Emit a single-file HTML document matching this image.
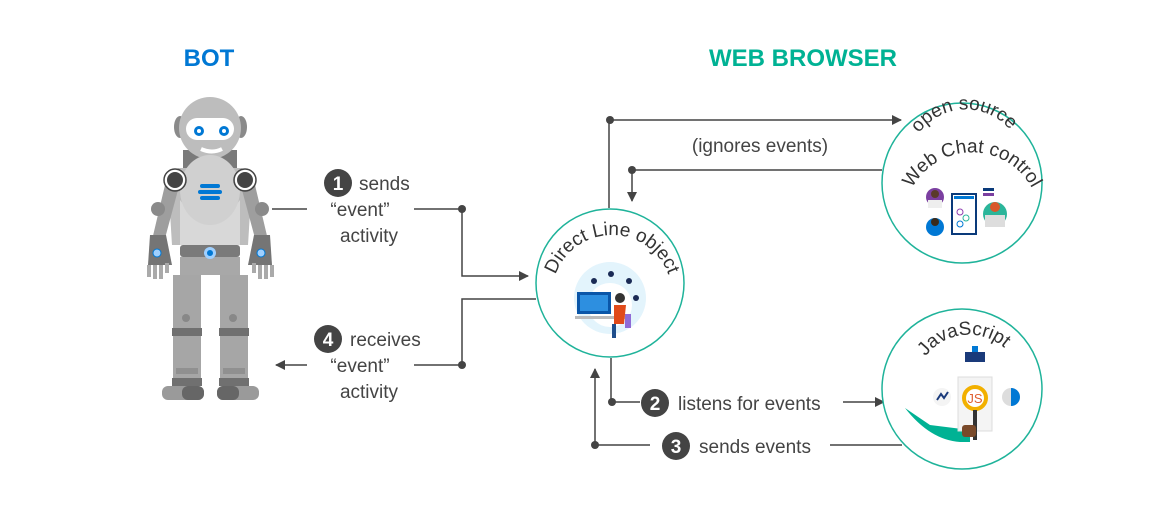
<!DOCTYPE html>
<html><head><meta charset="utf-8"><style>
html,body{margin:0;padding:0;background:#fff;}
svg{display:block;font-family:"Segoe UI","Liberation Sans",sans-serif;}
</style></head><body>
<svg width="1166" height="515" viewBox="0 0 1166 515" xmlns="http://www.w3.org/2000/svg">
<defs>
<marker id="ar" markerWidth="10" markerHeight="10" refX="9" refY="5" orient="auto" markerUnits="userSpaceOnUse"><path d="M0,0 L10,5 L0,10 z" fill="#444"/></marker>
<path id="dlp" d="M552,295 A60,60 0 0 1 672,295"/>
<path id="wcp1" d="M912,146 A58,58 0 0 1 1018,142"/>
<path id="wcp2" d="M906,204 A68,68 0 0 1 1038,204"/>
<path id="jsp" d="M920,366 A54,54 0 0 1 1012,356"/>
</defs>
<text x="209" y="66" text-anchor="middle" font-size="24" font-weight="bold" fill="#0078d4">BOT</text>
<text x="803" y="66" text-anchor="middle" font-size="24" font-weight="bold" fill="#00b294">WEB BROWSER</text>

<!-- robot -->
<g>
<rect x="183" y="150" width="54" height="20" fill="#7a7a7a"/>
<ellipse cx="180" cy="127" rx="6" ry="11" fill="#8a8a8a"/>
<ellipse cx="241" cy="127" rx="6" ry="11" fill="#8a8a8a"/>
<circle cx="210" cy="128" r="31" fill="#bdbdbd"/>
<rect x="186" y="118" width="48" height="22" rx="11" fill="#fff"/>
<circle cx="199" cy="131" r="5" fill="#0078d4"/><circle cx="199" cy="131" r="2" fill="#fff"/>
<circle cx="224" cy="131" r="5" fill="#0078d4"/><circle cx="224" cy="131" r="2" fill="#fff"/>
<path d="M201,149 Q212,154 222,149" stroke="#fff" stroke-width="4" fill="none"/>
<path d="M178,168 L242,168 L252,180 L248,245 L172,245 L168,180 Z" fill="#bdbdbd"/>
<path d="M180,200 Q210,240 240,200 L240,245 L180,245 Z" fill="#d8d8d8"/>
<ellipse cx="210" cy="190" rx="30" ry="35" fill="#d0d0d0"/>
<rect x="200" y="184" width="20" height="4" rx="2" fill="#0078d4"/>
<rect x="198" y="190" width="24" height="4" rx="2" fill="#0078d4"/>
<rect x="200" y="196" width="20" height="4" rx="2" fill="#0078d4"/>
<path d="M165,185 L152,240 L164,242 L178,190Z" fill="#9e9e9e"/>
<path d="M255,185 L268,240 L256,242 L242,190Z" fill="#9e9e9e"/>
<circle cx="175" cy="180" r="9" fill="#444" stroke="#fff" stroke-width="2"/><circle cx="175" cy="180" r="11" fill="none" stroke="#444" stroke-width="1.5"/>
<circle cx="245" cy="180" r="9" fill="#444" stroke="#fff" stroke-width="2"/><circle cx="245" cy="180" r="11" fill="none" stroke="#444" stroke-width="1.5"/>
<circle cx="158" cy="209" r="7" fill="#8a8a8a"/><circle cx="262" cy="209" r="7" fill="#8a8a8a"/>
<path d="M150,235 L166,235 L172,265 L148,265Z" fill="#757575"/>
<path d="M254,235 L270,235 L272,265 L248,265Z" fill="#757575"/>
<circle cx="157" cy="253" r="4" fill="#9fd0ff" stroke="#0078d4"/><circle cx="261" cy="253" r="4" fill="#9fd0ff" stroke="#0078d4"/>
<rect x="147" y="265" width="4" height="12" fill="#aaa"/><rect x="153" y="265" width="4" height="14" fill="#aaa"/><rect x="159" y="265" width="4" height="14" fill="#aaa"/><rect x="165" y="263" width="4" height="10" fill="#aaa"/>
<rect x="252" y="263" width="4" height="10" fill="#aaa"/><rect x="258" y="265" width="4" height="14" fill="#aaa"/><rect x="264" y="265" width="4" height="14" fill="#aaa"/><rect x="270" y="265" width="4" height="12" fill="#aaa"/>
<rect x="180" y="245" width="60" height="12" rx="3" fill="#7a7a7a"/>
<rect x="180" y="257" width="60" height="18" fill="#a8a8a8"/>
<circle cx="210" cy="253" r="6" fill="#9fd0ff"/><circle cx="210" cy="253" r="3" fill="#0078d4"/>
<rect x="173" y="275" width="28" height="85" fill="#a6a6a6"/>
<rect x="220" y="275" width="28" height="85" fill="#a6a6a6"/>
<circle cx="186" cy="318" r="4" fill="#888"/><circle cx="233" cy="318" r="4" fill="#888"/>
<rect x="172" y="328" width="30" height="8" fill="#707070"/><rect x="219" y="328" width="30" height="8" fill="#707070"/>
<rect x="173" y="336" width="28" height="42" fill="#a6a6a6"/><rect x="220" y="336" width="28" height="42" fill="#a6a6a6"/>
<rect x="176" y="368" width="22" height="6" fill="#909090"/><rect x="223" y="368" width="22" height="6" fill="#909090"/>
<rect x="172" y="378" width="30" height="8" fill="#707070"/><rect x="219" y="378" width="30" height="8" fill="#707070"/>
<rect x="162" y="386" width="42" height="14" rx="6" fill="#9a9a9a"/><rect x="217" y="386" width="42" height="14" rx="6" fill="#9a9a9a"/>
<rect x="182" y="386" width="22" height="14" rx="6" fill="#666"/><rect x="217" y="386" width="22" height="14" rx="6" fill="#666"/>
</g>

<g stroke="#444" stroke-width="1.5" fill="none">
<path d="M272,209 L307,209"/><path d="M414,209 L462,209 L462,276 L528,276" marker-end="url(#ar)"/>
<path d="M536,299 L462,299 L462,365 L414,365"/><path d="M307,365 L276,365" marker-end="url(#ar)"/>
<path d="M609,208 L609,120 L901,120" marker-end="url(#ar)"/>
<path d="M882,170 L632,170 L632,201" marker-end="url(#ar)"/>
<path d="M611,358 L611,402 L640,402"/><path d="M843,402 L884,402" marker-end="url(#ar)"/>
<path d="M650,445 L595,445 L595,369" marker-end="url(#ar)"/><path d="M830,445 L902,445"/>
</g>
<g fill="#444"><circle cx="462" cy="209" r="4"/><circle cx="462" cy="365" r="4"/><circle cx="610" cy="120" r="4"/><circle cx="632" cy="170" r="4"/><circle cx="612" cy="402" r="4"/><circle cx="595" cy="445" r="4"/></g>

<g font-size="19" fill="#444">
<circle cx="338" cy="183" r="14" fill="#444"/><text x="338" y="190" text-anchor="middle" fill="#fff" font-weight="bold">1</text>
<text x="359" y="190">sends</text><text x="360" y="216" text-anchor="middle">“event”</text><text x="369" y="242" text-anchor="middle">activity</text>
<circle cx="328" cy="339" r="14" fill="#444"/><text x="328" y="346" text-anchor="middle" fill="#fff" font-weight="bold">4</text>
<text x="350" y="346">receives</text><text x="360" y="372" text-anchor="middle">“event”</text><text x="369" y="398" text-anchor="middle">activity</text>
<text x="760" y="152" text-anchor="middle">(ignores events)</text>
<circle cx="655" cy="403" r="14" fill="#444"/><text x="655" y="410" text-anchor="middle" fill="#fff" font-weight="bold">2</text>
<text x="678" y="410">listens for events</text>
<circle cx="676" cy="446" r="14" fill="#444"/><text x="676" y="453" text-anchor="middle" fill="#fff" font-weight="bold">3</text>
<text x="699" y="453">sends events</text>
</g>

<g fill="#fff" stroke="#1fb39a" stroke-width="1.5">
<circle cx="610" cy="283" r="74"/><circle cx="962" cy="183" r="80"/><circle cx="962" cy="389" r="80"/>
</g>
<g font-size="19" fill="#333">
<text><textPath href="#dlp" startOffset="50%" text-anchor="middle">Direct Line object</textPath></text>
<text><textPath href="#wcp1" startOffset="50%" text-anchor="middle">open source</textPath></text>
<text><textPath href="#wcp2" startOffset="50%" text-anchor="middle">Web Chat control</textPath></text>
<text><textPath href="#jsp" startOffset="50%" text-anchor="middle">JavaScript</textPath></text>
</g>

<!-- direct line art -->
<circle cx="610" cy="298" r="36" fill="#e3f4fc"/>
<circle cx="610" cy="305" r="22" fill="#fff"/>
<rect x="577" y="292" width="34" height="22" fill="#0a56a8"/><rect x="580" y="295" width="28" height="16" fill="#2d8fe0"/>
<rect x="575" y="316" width="52" height="3" fill="#bbb"/>
<circle cx="620" cy="298" r="5" fill="#333"/><path d="M614,305 L626,305 L624,324 L614,324Z" fill="#e04a1a"/>
<rect x="612" y="324" width="4" height="14" fill="#1e4e8c"/><rect x="625" y="314" width="6" height="14" fill="#8f6bd6"/>
<circle cx="594" cy="281" r="3" fill="#1a2a55"/><circle cx="611" cy="274" r="3" fill="#1a2a55"/><circle cx="629" cy="281" r="3" fill="#1a2a55"/><circle cx="636" cy="298" r="3" fill="#1a2a55"/>

<!-- web chat art -->
<rect x="952" y="194" width="24" height="40" fill="#fff" stroke="#0a3a7a" stroke-width="2"/>
<rect x="954" y="196" width="20" height="3" fill="#0078d4"/>
<circle cx="960" cy="212" r="3" fill="none" stroke="#8f3fb0"/><circle cx="966" cy="218" r="3" fill="none" stroke="#2bb59a"/><circle cx="960" cy="224" r="3" fill="none" stroke="#0078d4"/>
<circle cx="935" cy="197" r="9" fill="#7b3fa0"/><circle cx="935" cy="194" r="4" fill="#5a3a2a"/><rect x="928" y="200" width="14" height="8" fill="#eee"/>
<circle cx="935" cy="227" r="9" fill="#0078d4"/><circle cx="935" cy="222" r="4" fill="#3a2a1a"/>
<circle cx="995" cy="214" r="12" fill="#2bb59a"/><circle cx="995" cy="207" r="5" fill="#d9572a"/><rect x="985" y="215" width="20" height="12" fill="#ddd"/>
<rect x="983" y="188" width="11" height="3" fill="#0a3a7a"/><rect x="983" y="193" width="11" height="3" fill="#7b3fa0"/>

<!-- js art -->
<path d="M905,408 Q930,440 960,442 L970,442 L970,430 L930,425 Z" fill="#00b294"/>
<rect x="958" y="377" width="34" height="54" fill="#f4f4f4" stroke="#ddd"/>
<circle cx="975" cy="398" r="11" fill="#fff" stroke="#f2b000" stroke-width="4"/>
<text x="975" y="403" text-anchor="middle" font-size="13" fill="#e06030">JS</text>
<rect x="973" y="410" width="4" height="30" fill="#333"/>
<rect x="962" y="425" width="14" height="12" rx="3" fill="#7a4a2a"/>
<rect x="965" y="352" width="20" height="10" fill="#1a3a7a"/><rect x="972" y="346" width="6" height="6" fill="#0078d4"/>
<circle cx="942" cy="397" r="9" fill="#f4f4f4"/><path d="M937,400 L941,394 L944,398 L948,392" stroke="#1a3a7a" stroke-width="2" fill="none"/>
<circle cx="1011" cy="397" r="9" fill="#ddd"/><path d="M1011,388 A9,9 0 0 1 1011,406 Z" fill="#0078d4"/>
</svg>
</body></html>
